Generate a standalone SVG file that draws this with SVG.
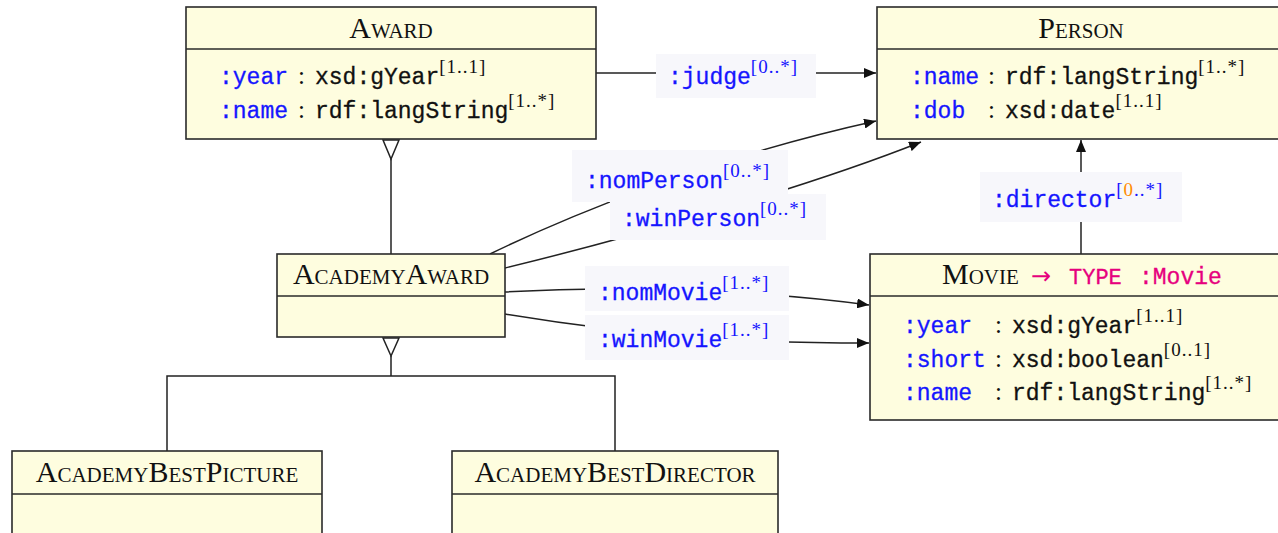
<svg xmlns="http://www.w3.org/2000/svg" width="1278" height="533" viewBox="0 0 1278 533">
<style>
.box{fill:#fefddf;stroke:#2a2a2a;stroke-width:1.6}
.div{stroke:#2a2a2a;stroke-width:1.6}
.hd{font-family:"Liberation Serif",serif;font-variant:small-caps;font-size:30px;fill:#111;text-anchor:middle}
.tt{font-family:"Liberation Mono",monospace;font-size:23px;fill:#111;stroke:#111;stroke-width:0.3}
.prop{fill:#1515ff;stroke:#1515ff}
.col{font-family:"Liberation Serif",serif;font-size:25px;fill:#111}
.sup{font-family:"Liberation Serif",serif;font-size:19px;letter-spacing:1px;fill:#111}
.bsup{font-family:"Liberation Serif",serif;font-size:19px;letter-spacing:1px;fill:#1515ff}
.edge{fill:none;stroke:#222;stroke-width:1.5}
.lbg{fill:#f7f7fb}
.mag{fill:#e6007e}
</style>
<defs>
<marker id="arr" viewBox="0 0 12 10" refX="12" refY="5" markerWidth="12" markerHeight="10" markerUnits="userSpaceOnUse" orient="auto">
<path d="M0,0 L12,5 L0,10 z" fill="#111"/>
</marker>
</defs>
<g id="connectors">
<path class="edge" d="M391,159 V254"/>
<path d="M383,140 L399,140 L391,159 z" fill="#fff" stroke="#222" stroke-width="1.5"/>
<path class="edge" d="M391,356 V376 M167,451 V376 H615 V451"/>
<path d="M383,338 L399,338 L391,356 z" fill="#fff" stroke="#222" stroke-width="1.5"/>
<path class="edge" d="M596,73 H876" marker-end="url(#arr)"/>
<path class="edge" d="M490,254 C560,220 700,160 876,121" marker-end="url(#arr)"/>
<path class="edge" d="M505,268 C620,240 800,190 921,142" marker-end="url(#arr)"/>
<path class="edge" d="M505,292 C640,284 780,293 869,305" marker-end="url(#arr)"/>
<path class="edge" d="M505,314 C650,338 760,343 869,343" marker-end="url(#arr)"/>
<path class="edge" d="M1081,254 V140" marker-end="url(#arr)"/>
<g id="lbl-judge">
<rect class="lbg" x="656" y="54" width="160" height="44"/>
<text x="668" y="84"><tspan class="tt prop">:judge</tspan><tspan class="bsup" dy="-11">[0..*]</tspan></text>
</g>
<g id="lbl-nomPerson">
<rect class="lbg" x="572" y="150" width="216" height="52"/>
<text x="585" y="188"><tspan class="tt prop">:nomPerson</tspan><tspan class="bsup" dy="-11">[0..*]</tspan></text>
</g>
<g id="lbl-winPerson">
<rect class="lbg" x="610" y="194" width="216" height="46"/>
<text x="622" y="226"><tspan class="tt prop">:winPerson</tspan><tspan class="bsup" dy="-11">[0..*]</tspan></text>
</g>
<g id="lbl-director">
<rect class="lbg" x="980" y="172" width="202" height="50"/>
<text x="992" y="207"><tspan class="tt prop">:director</tspan><tspan class="bsup" dy="-11">[<tspan fill="#ff8c00">0</tspan>..*]</tspan></text>
</g>
<g id="lbl-nomMovie">
<rect class="lbg" x="585" y="266" width="204" height="45"/>
<text x="598" y="300"><tspan class="tt prop">:nomMovie</tspan><tspan class="bsup" dy="-11">[1..*]</tspan></text>
</g>
<g id="lbl-winMovie">
<rect class="lbg" x="585" y="315" width="204" height="45"/>
<text x="598" y="347"><tspan class="tt prop">:winMovie</tspan><tspan class="bsup" dy="-11">[1..*]</tspan></text>
</g>
</g>
<g id="award">
<rect class="box" x="186" y="7" width="410" height="132"/>
<line class="div" x1="186" y1="49" x2="596" y2="49"/>
<text x="391" y="38" class="hd">Award</text>
<text x="219" y="84"><tspan class="tt prop">:year</tspan><tspan x="298" class="col">:</tspan><tspan x="315" class="tt">xsd:gYear</tspan><tspan class="sup" dy="-11">[1..1]</tspan></text>
<text x="219" y="118"><tspan class="tt prop">:name</tspan><tspan x="298" class="col">:</tspan><tspan x="315" class="tt">rdf:langString</tspan><tspan class="sup" dy="-11">[1..*]</tspan></text>
</g>
<g id="person">
<rect class="box" x="877" y="7" width="410" height="132"/>
<line class="div" x1="877" y1="49" x2="1278" y2="49"/>
<text x="1081" y="38" class="hd">Person</text>
<text x="910" y="84"><tspan class="tt prop">:name</tspan><tspan x="988" class="col">:</tspan><tspan x="1005" class="tt">rdf:langString</tspan><tspan class="sup" dy="-11">[1..*]</tspan></text>
<text x="910" y="118"><tspan class="tt prop">:dob</tspan><tspan x="988" class="col">:</tspan><tspan x="1005" class="tt">xsd:date</tspan><tspan class="sup" dy="-11">[1..1]</tspan></text>
</g>
<g id="academyAward">
<rect class="box" x="277" y="254" width="228" height="83"/>
<line class="div" x1="277" y1="296" x2="505" y2="296"/>
<text x="391" y="284" class="hd">AcademyAward</text>
</g>
<g id="movie">
<rect class="box" x="870" y="254" width="417" height="166"/>
<line class="div" x1="870" y1="296" x2="1278" y2="296"/>
<text x="942" y="284" class="hd" style="text-anchor:start">Movie<tspan x="1031" class="mag" font-family="DejaVu Sans,sans-serif" style="font-variant:normal" font-size="24">→</tspan><tspan x="1069" class="mag" font-family="Liberation Mono,monospace" font-size="31" stroke="#e6007e" stroke-width="0.3">type</tspan><tspan x="1139" class="mag" font-family="Liberation Mono,monospace" font-size="23" stroke="#e6007e" stroke-width="0.3" style="font-variant:normal">:Movie</tspan></text>
<text x="903" y="333"><tspan class="tt prop">:year</tspan><tspan x="995" class="col">:</tspan><tspan x="1012" class="tt">xsd:gYear</tspan><tspan class="sup" dy="-11">[1..1]</tspan></text>
<text x="903" y="367"><tspan class="tt prop">:short</tspan><tspan x="995" class="col">:</tspan><tspan x="1012" class="tt">xsd:boolean</tspan><tspan class="sup" dy="-11">[0..1]</tspan></text>
<text x="903" y="400"><tspan class="tt prop">:name</tspan><tspan x="995" class="col">:</tspan><tspan x="1012" class="tt">rdf:langString</tspan><tspan class="sup" dy="-11">[1..*]</tspan></text>
</g>
<g id="academyBestPicture">
<rect class="box" x="12" y="451" width="310" height="90"/>
<line class="div" x1="12" y1="494" x2="322" y2="494"/>
<text x="167" y="482" class="hd">AcademyBestPicture</text>
</g>
<g id="academyBestDirector">
<rect class="box" x="452" y="451" width="326" height="90"/>
<line class="div" x1="452" y1="494" x2="778" y2="494"/>
<text x="615" y="482" class="hd">AcademyBestDirector</text>
</g>
</svg>
